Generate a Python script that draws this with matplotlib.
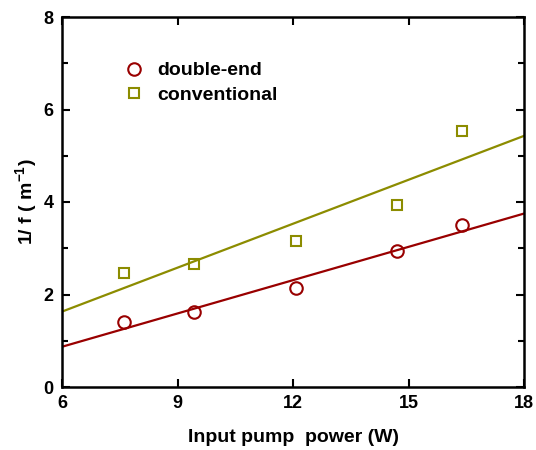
import matplotlib
matplotlib.use('Agg')
import matplotlib.pyplot as plt
import numpy as np

plt.rcParams['font.family'] = ['Liberation Sans', 'DejaVu Sans']
plt.rcParams['font.weight'] = 'bold'
plt.rcParams['mathtext.fontset'] = 'custom'
plt.rcParams['mathtext.rm'] = 'Liberation Sans:bold'
plt.rcParams['mathtext.default'] = 'rm'

# pump power (W)
power = [7.61, 9.43, 12.09, 14.69, 16.38]
# 1/f (m^-1)
double_end = [1.40, 1.62, 2.13, 2.95, 3.50]
conventional = [2.47, 2.67, 3.16, 3.94, 5.54]

# fitted lines (end points as drawn)
fit_x = [6, 18]
fit_double = [0.87, 3.75]
fit_conv = [1.63, 5.43]

red = '#990000'
olive = '#8c8c00'

fig = plt.figure(figsize=(5.36, 4.5), dpi=100)
ax = fig.add_axes([62/536, 1 - 387/450, 462/536, 370/450])

ax.plot(fit_x, fit_double, color=red, lw=1.6)
ax.plot(fit_x, fit_conv, color=olive, lw=1.6)
ax.plot(power, double_end, 'o', ms=9, mfc='none', mec=red, mew=1.5,
        label='double-end')
ax.plot(power, conventional, 's', ms=7.8, mfc='none', mec=olive, mew=1.5,
        label='conventional')

ax.set_xlim(6, 18)
ax.set_ylim(0, 8)
ax.set_xticks([6, 9, 12, 15, 18])
ax.set_yticks([0, 2, 4, 6, 8])
ax.set_yticks([1, 3, 5, 7], minor=True)
ax.tick_params(which='both', direction='in', top=True, right=True,
               labelsize=13, width=1.5, pad=6)
ax.tick_params(which='major', length=6)
ax.tick_params(which='minor', length=4)
for s in ax.spines.values():
    s.set_linewidth(1.8)

ax.set_xlabel('Input pump  power (W)', fontsize=14, fontweight='bold', labelpad=12)
ax.set_ylabel('1/ f ( m$^{-1}$)', fontsize=14, fontweight='bold', labelpad=3)

ax.legend(loc='upper left', bbox_to_anchor=(0.113, 0.9), frameon=False,
          fontsize=14, handletextpad=0.6, labelspacing=0.35, borderaxespad=0,
          handlelength=1.2)

fig.savefig('out.png', dpi=100)
